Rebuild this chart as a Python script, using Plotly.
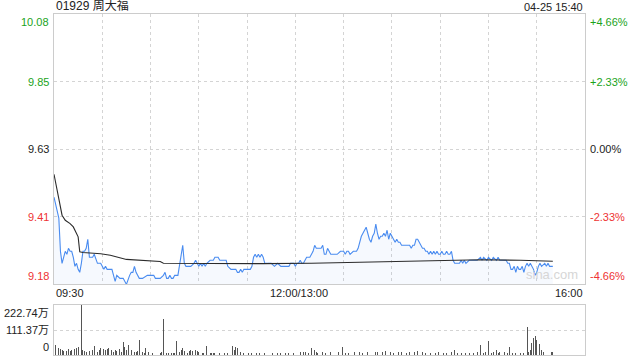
import plotly.graph_objects as go

# ---------------- data ----------------
title_text = "01929 周大福"
stamp_text = "04-25 15:40"
prev_close = 9.63
limit_pct = 4.66
session_minutes = 330  # 09:30-12:00 + 13:00-16:00

price_ticks = [10.08, 9.85, 9.63, 9.41, 9.18]
price_labels = ["10.08", "9.85", "9.63", "9.41", "9.18"]
pct_labels = ["+4.66%", "+2.33%", "0.00%", "-2.33%", "-4.66%"]
label_colors = ["#1aa31a", "#1aa31a", "#222222", "#ee3333", "#ee3333"]
time_labels = ["09:30", "12:00/13:00", "16:00"]
time_label_minutes = [0, 150, 330]
vol_tick_labels = ["222.74万", "111.37万", "0"]
vol_max = 222.74

# trading minute index (lunch removed) and last price
price_min = [0, 3, 4, 5, 7, 8, 9, 10, 11, 12, 13, 14, 15, 16, 17, 18, 19, 20, 21, 22,
             24, 25, 27, 29, 30, 31, 32, 33, 36, 38, 39, 41, 43, 45, 47, 48, 49, 50, 51, 53,
             55, 58, 60, 62, 63, 66, 68, 69, 70, 71, 72, 73, 74, 75, 77, 78, 79, 80, 81, 82,
             84, 85, 87, 88, 89, 90, 91, 92, 93, 94, 95, 97, 99, 100, 102, 103, 107, 108, 110, 112,
             113, 114, 115, 116, 117, 118, 122, 123, 124, 125, 126, 127, 128, 129, 130, 131, 133, 135, 137, 139,
             141, 144, 146, 147, 149, 150, 151, 152, 153, 154, 155, 156, 157, 159, 160, 161, 162, 163, 165, 166,
             167, 168, 169, 170, 171, 172, 173, 176, 178, 180, 181, 182, 183, 184, 186, 188, 189, 190, 191, 192,
             193, 194, 195, 196, 197, 198, 199, 200, 201, 202, 203, 204, 205, 206, 207, 208, 209, 210, 211, 212,
             213, 214, 215, 216, 217, 218, 219, 220, 221, 222, 223, 224, 225, 226, 227, 228, 229, 230, 231, 232,
             233, 234, 235, 236, 237, 238, 239, 240, 241, 242, 243, 244, 245, 246, 247, 248, 249, 251, 252, 253,
             254, 255, 256, 258, 260, 261, 263, 265, 266, 267, 269, 270, 272, 273, 275, 276, 277, 279, 281, 282,
             283, 284, 285, 286, 287, 288, 289, 290, 291, 292, 293, 294, 295, 296, 297, 298, 299, 300, 301, 302,
             303, 305, 306, 307, 308, 309, 310]
price_val = [9.47, 9.40, 9.29, 9.25, 9.29, 9.28, 9.30, 9.29, 9.29, 9.27, 9.24, 9.25, 9.23, 9.22, 9.25, 9.29, 9.29, 9.30, 9.33, 9.27,
             9.27, 9.28, 9.25, 9.25, 9.24, 9.23, 9.24, 9.23, 9.23, 9.19, 9.21, 9.20, 9.20, 9.18, 9.21, 9.22, 9.22, 9.24, 9.22, 9.20,
             9.20, 9.21, 9.21, 9.21, 9.20, 9.20, 9.21, 9.22, 9.20, 9.20, 9.21, 9.20, 9.20, 9.21, 9.21, 9.24, 9.27, 9.31, 9.25, 9.24,
             9.24, 9.24, 9.25, 9.26, 9.25, 9.24, 9.25, 9.24, 9.25, 9.24, 9.25, 9.26, 9.26, 9.27, 9.27, 9.26, 9.26, 9.24, 9.23, 9.23,
             9.23, 9.22, 9.22, 9.23, 9.22, 9.23, 9.23, 9.24, 9.27, 9.28, 9.27, 9.28, 9.27, 9.28, 9.27, 9.25, 9.25, 9.25, 9.24, 9.25,
             9.24, 9.24, 9.24, 9.25, 9.25, 9.24, 9.25, 9.25, 9.26, 9.25, 9.25, 9.26, 9.27, 9.27, 9.28, 9.29, 9.31, 9.30, 9.30, 9.30,
             9.31, 9.28, 9.28, 9.30, 9.29, 9.28, 9.28, 9.28, 9.29, 9.29, 9.28, 9.29, 9.29, 9.28, 9.29, 9.29, 9.30, 9.32, 9.34, 9.35,
             9.36, 9.37, 9.35, 9.33, 9.32, 9.34, 9.35, 9.38, 9.35, 9.33, 9.34, 9.34, 9.35, 9.34, 9.36, 9.33, 9.35, 9.34, 9.33, 9.32,
             9.33, 9.32, 9.32, 9.31, 9.31, 9.31, 9.31, 9.31, 9.31, 9.30, 9.31, 9.31, 9.33, 9.33, 9.32, 9.31, 9.30, 9.30, 9.29, 9.29,
             9.28, 9.29, 9.28, 9.29, 9.28, 9.29, 9.28, 9.28, 9.29, 9.28, 9.28, 9.29, 9.28, 9.28, 9.29, 9.26, 9.25, 9.25, 9.25, 9.26,
             9.25, 9.26, 9.25, 9.26, 9.26, 9.26, 9.26, 9.27, 9.26, 9.27, 9.26, 9.27, 9.26, 9.27, 9.26, 9.27, 9.26, 9.26, 9.26, 9.25,
             9.25, 9.23, 9.23, 9.24, 9.22, 9.24, 9.23, 9.23, 9.24, 9.22, 9.24, 9.25, 9.24, 9.25, 9.24, 9.23, 9.21, 9.22, 9.24, 9.25,
             9.24, 9.25, 9.24, 9.25, 9.24, 9.24, 9.24]

avg_min = [0, 2, 4, 5, 7, 10, 12, 14, 15, 16, 18, 29, 35, 45, 54, 60, 66, 68, 100, 130,
           160, 195, 215, 245, 265, 290, 310]
avg_val = [9.546, 9.488, 9.432, 9.410, 9.393, 9.382, 9.371, 9.349, 9.338, 9.288, 9.286, 9.282, 9.277, 9.263, 9.260, 9.257, 9.256, 9.250, 9.249, 9.249,
           9.250, 9.254, 9.258, 9.262, 9.262, 9.260, 9.257]

# volume per minute (万股)
vol_min = [0, 1, 3, 4, 5, 6, 8, 9, 10, 11, 13, 14, 15, 17, 18, 19, 20, 22, 23, 24,
           25, 27, 28, 29, 31, 32, 33, 34, 36, 37, 38, 39, 41, 42, 43, 44, 45, 46, 48, 50,
           51, 52, 53, 55, 56, 57, 59, 61, 64, 66, 67, 68, 70, 71, 73, 74, 75, 76, 78, 79,
           80, 81, 83, 84, 85, 86, 88, 89, 90, 92, 93, 95, 97, 98, 99, 100, 103, 106, 108, 111,
           112, 113, 114, 116, 118, 121, 123, 126, 128, 131, 133, 136, 139, 141, 144, 146, 149, 153, 155, 156,
           158, 160, 162, 163, 164, 167, 169, 172, 174, 177, 179, 181, 183, 187, 190, 192, 195, 197, 200, 201,
           204, 206, 209, 211, 214, 216, 219, 221, 224, 226, 229, 231, 234, 237, 239, 242, 244, 247, 249, 251,
           253, 256, 258, 261, 263, 265, 267, 268, 270, 272, 273, 275, 276, 277, 280, 282, 283, 285, 287, 290,
           292, 294, 295, 296, 297, 298, 299, 300, 302, 303, 304, 307, 309, 310]
vol_val = [54.6, 44.3, 29.5, 25.1, 22.1, 17.7, 19.2, 25.1, 17.7, 22.1, 25.1, 29.5, 36.9, 222.74, 22.1, 17.7, 14.8, 17.7, 13.3, 22.1,
           39.8, 14.8, 22.1, 29.5, 25.1, 22.1, 25.1, 29.5, 22.1, 14.8, 22.1, 17.7, 25.1, 14.8, 59.0, 36.9, 22.1, 44.3, 22.1, 14.8,
           11.8, 17.7, 66.4, 14.8, 10.3, 29.5, 14.8, 10.3, 10.3, 7.4, 14.8, 159.3, 10.3, 7.4, 7.4, 10.3, 7.4, 62.0, 14.8, 22.1,
           29.5, 19.2, 10.3, 17.7, 22.1, 17.7, 22.1, 17.7, 14.8, 10.3, 7.4, 39.8, 10.3, 7.4, 10.3, 7.4, 10.3, 7.4, 10.3, 39.8,
           22.1, 36.9, 29.5, 14.8, 7.4, 10.3, 10.3, 7.4, 7.4, 10.3, 7.4, 7.4, 7.4, 7.4, 7.4, 10.3, 10.3, 13.3, 14.8, 13.3,
           7.4, 32.5, 22.1, 14.8, 10.3, 14.8, 10.3, 14.8, 10.3, 13.3, 33.9, 10.3, 10.3, 14.8, 13.3, 10.3, 14.8, 14.8, 13.3, 14.8,
           11.8, 17.7, 14.8, 10.3, 14.8, 13.3, 10.3, 14.8, 11.8, 19.2, 13.3, 10.3, 7.4, 10.3, 11.8, 7.4, 10.3, 13.3, 22.1, 10.3,
           7.4, 10.3, 10.3, 7.4, 14.8, 45.7, 10.3, 13.3, 62.0, 10.3, 13.3, 22.1, 10.3, 14.8, 13.3, 7.4, 35.4, 10.3, 10.3, 7.4,
           10.3, 125.4, 14.8, 22.1, 51.6, 73.8, 84.1, 66.4, 48.7, 22.1, 13.3, 10.3, 13.3, 14.8]

# ---------------- figure ----------------
hi = prev_close * (1 + limit_pct / 100)
lo = prev_close * (1 - limit_pct / 100)
step = (hi - lo) / 4
grid_vals = [lo + step * k for k in range(1, 4)]

FONT = "Liberation Sans, Arial, Noto Sans CJK SC, sans-serif"
GRID = "#d4d4d4"
BORDER = "#cccccc"

fig = go.Figure()
fig.add_trace(go.Scatter(
    x=price_min, y=price_val, mode="lines",
    line=dict(color="#4a8cf0", width=1.1),
    fill="tozeroy", fillcolor="rgba(74,140,240,0.05)",
    xaxis="x", yaxis="y", hoverinfo="skip", showlegend=False))
fig.add_trace(go.Scatter(
    x=avg_min, y=avg_val, mode="lines",
    line=dict(color="#2b2b2b", width=1.1),
    xaxis="x", yaxis="y", hoverinfo="skip", showlegend=False))
fig.add_trace(go.Bar(
    x=vol_min, y=vol_val, width=0.6,
    marker=dict(color="#555555", line=dict(width=0)),
    xaxis="x2", yaxis="y2", hoverinfo="skip", showlegend=False))

main_dom = [0.2082, 1.0]
vol_dom = [0.0, 0.1466]

fig.update_layout(
    width=640, height=360,
    margin=dict(l=54, r=55, t=14, b=5),
    paper_bgcolor="white", plot_bgcolor="white",
    font=dict(family=FONT, size=11, color="#222222"),
    bargap=0,
    xaxis=dict(domain=[0, 1], range=[0, session_minutes], anchor="y",
               showticklabels=False, ticks="", tick0=0, dtick=30,
               showgrid=True, gridcolor=GRID, griddash="dot", gridwidth=1,
               showline=True, linecolor=BORDER, linewidth=1, mirror=True, zeroline=False),
    yaxis=dict(domain=main_dom, range=[lo, hi], anchor="x",
               showticklabels=False, ticks="", tickvals=grid_vals,
               showgrid=True, gridcolor=GRID, griddash="dot", gridwidth=1,
               showline=True, linecolor=BORDER, linewidth=1, mirror=True, zeroline=False),
    xaxis2=dict(domain=[0, 1], range=[0, session_minutes], anchor="y2",
                showticklabels=False, ticks="", showgrid=False,
                showline=True, linecolor=BORDER, linewidth=1, mirror=True, zeroline=False),
    yaxis2=dict(domain=vol_dom, range=[0, vol_max], anchor="x2",
                showticklabels=False, ticks="", tickvals=[vol_max / 2],
                showgrid=True, gridcolor=GRID, griddash="dot", gridwidth=1,
                showline=True, linecolor=BORDER, linewidth=1, mirror=True, zeroline=False),
)

ann = []
# price / percent labels
anchors = ["top", "middle", "middle", "middle", "bottom"]
ypos = [hi, grid_vals[2], grid_vals[1], grid_vals[0], lo]
for i in range(5):
    ann.append(dict(xref="paper", yref="y", x=0, y=ypos[i], xanchor="right", yanchor=anchors[i],
                    xshift=-3, text=price_labels[i], showarrow=False,
                    font=dict(size=11, color=label_colors[i], family=FONT)))
    ann.append(dict(xref="paper", yref="y", x=1, y=ypos[i], xanchor="left", yanchor=anchors[i],
                    xshift=3, text=pct_labels[i], showarrow=False,
                    font=dict(size=11, color=label_colors[i], family=FONT)))
# time labels
t_anchor = ["left", "center", "right"]
for i in range(3):
    ann.append(dict(xref="x", yref="paper", x=time_label_minutes[i], y=0.1818,
                    xanchor=t_anchor[i], yanchor="middle", text=time_labels[i], showarrow=False,
                    xshift=4 if i == 1 else 0,
                    font=dict(size=11, color="#222222", family=FONT)))
# volume labels
v_anchor = ["top", "middle", "bottom"]
v_pos = [vol_max, vol_max / 2, 0]
for i in range(3):
    ann.append(dict(xref="paper", yref="y2", x=0, y=v_pos[i], xanchor="right", yanchor=v_anchor[i],
                    xshift=-3, text=vol_tick_labels[i], showarrow=False,
                    font=dict(size=11, color="#222222", family=FONT)))
# title & timestamp
ann.append(dict(xref="paper", yref="paper", x=0, y=1, xanchor="left", yanchor="bottom",
                text=title_text, showarrow=False, yshift=-1,
                font=dict(size=12, color="#222222", family=FONT)))
ann.append(dict(xref="paper", yref="paper", x=1, y=1, xanchor="right", yanchor="bottom",
                text=stamp_text, showarrow=False, yshift=-1,
                font=dict(size=11, color="#222222", family=FONT)))
# watermark
ann.append(dict(xref="paper", yref="y", x=(552 - 54) / 531, y=lo, xanchor="center", yanchor="bottom",
                text="sina.com", showarrow=False, yshift=0,
                font=dict(size=13, color="#d6d6d6", family=FONT)))
fig.update_layout(annotations=ann)

# remove the browser's default 8px page margin so the 640x360 figure fills the window
fig.write_html("out.html",
               config={"displayModeBar": False, "staticPlot": True},
               post_script="document.body.style.margin='0';document.body.style.overflow='hidden';")
